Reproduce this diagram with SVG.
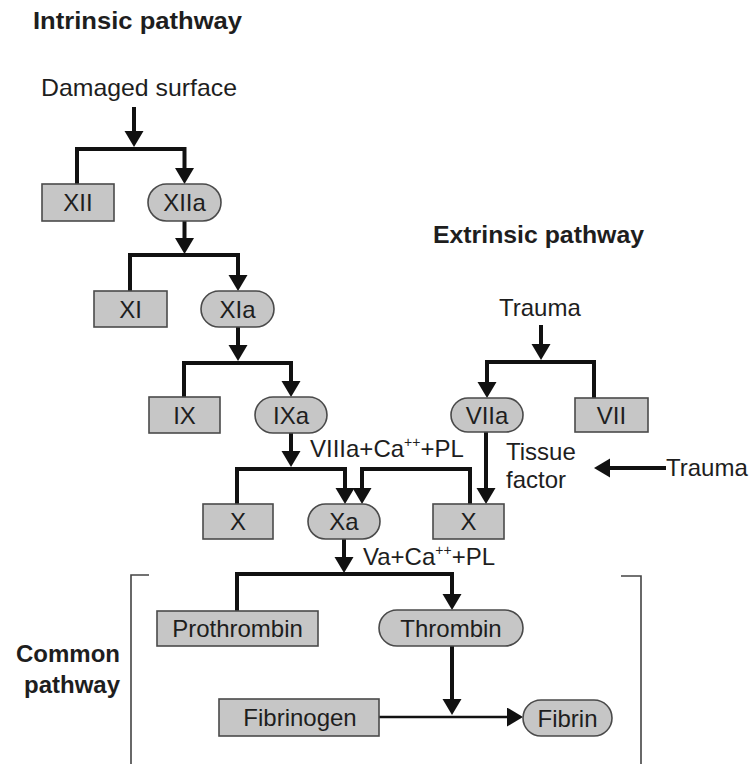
<svg xmlns="http://www.w3.org/2000/svg" width="752" height="764" viewBox="0 0 752 764">
<style>
text{font-family:"Liberation Sans",Arial,sans-serif;fill:#1e1e1e;font-size:24px}
.b{font-weight:bold}
.nt{text-anchor:middle}
.box{fill:#c6c6c6;stroke:#4a4a4a;stroke-width:1.6}
.c{fill:none;stroke:#111;stroke-width:4;stroke-linejoin:miter}
.thin{stroke-width:2.6}
.br{fill:none;stroke:#444;stroke-width:1.6}
.sup{font-size:14px}
</style>
<defs>
<marker id="ah" markerUnits="userSpaceOnUse" markerWidth="18" markerHeight="20" refX="8" refY="9.5" orient="auto" viewBox="0 0 18 20">
<path d="M0,0 L16,9.5 L0,19 z" fill="#111"/>
</marker>
</defs>
<rect width="752" height="764" fill="#fff"/>

<g id="titles">
<text class="b" x="33" y="29" textLength="209" lengthAdjust="spacingAndGlyphs">Intrinsic pathway</text>
<text class="b" x="433" y="243" textLength="211" lengthAdjust="spacingAndGlyphs">Extrinsic pathway</text>
<text class="b" x="120" y="662" text-anchor="end">Common</text>
<text class="b" x="120" y="693" text-anchor="end">pathway</text>
</g>

<g id="labels">
<text x="41" y="96" textLength="196" lengthAdjust="spacingAndGlyphs">Damaged surface</text>
<text x="499" y="316">Trauma</text>
<text x="666" y="476">Trauma</text>
<text x="506" y="460">Tissue</text>
<text x="506" y="488">factor</text>
<text x="310" y="457">VIIIa+Ca<tspan class="sup" dy="-10">++</tspan><tspan dy="10">+PL</tspan></text>
<text x="363" y="565">Va+Ca<tspan class="sup" dy="-10">++</tspan><tspan dy="10">+PL</tspan></text>
</g>

<g id="brackets">
<path class="br" d="M149,575 H131 V764"/>
<path class="br" d="M621,576 H641 V764"/>
</g>

<g id="connectors">
<path class="c" d="M134,107 V139" marker-end="url(#ah)"/>
<path class="c" d="M77,184 V149 H184.5 V176" marker-end="url(#ah)"/>
<path class="c" d="M184.5,221 V246" marker-end="url(#ah)"/>
<path class="c" d="M130,291 V255 H238 V283" marker-end="url(#ah)"/>
<path class="c" d="M238,327 V353" marker-end="url(#ah)"/>
<path class="c" d="M184,397 V363 H291 V389" marker-end="url(#ah)"/>
<path class="c" d="M291,433 V459" marker-end="url(#ah)"/>
<path class="c" d="M237,504 V469 H345 V496" marker-end="url(#ah)"/>
<path class="c" d="M470,504 V469 H362 V496" marker-end="url(#ah)"/>
<path class="c" d="M486,432 V496" marker-end="url(#ah)"/>
<path class="c" d="M541,325 V352" marker-end="url(#ah)"/>
<path class="c" d="M594,398 V362 H487 V390" marker-end="url(#ah)"/>
<path class="c" d="M666,468 H602" marker-end="url(#ah)"/>
<path class="c" d="M344,539 V565" marker-end="url(#ah)"/>
<path class="c" d="M237,611 V574 H452 V602" marker-end="url(#ah)"/>
<path class="c" d="M452,646 V707" marker-end="url(#ah)"/>
<path class="c thin" d="M379,717 H515" marker-end="url(#ah)"/>
</g>

<g id="n-XII"><rect class="box" x="42" y="184" width="72" height="37"/><text class="nt" x="78" y="211">XII</text></g>
<g id="n-XIIa"><rect class="box" x="148" y="184" width="73" height="37" rx="18.5"/><text class="nt" x="184.5" y="211">XIIa</text></g>
<g id="n-XI"><rect class="box" x="94" y="291" width="73" height="36"/><text class="nt" x="130.5" y="317.5">XI</text></g>
<g id="n-XIa"><rect class="box" x="201" y="291" width="73" height="36" rx="18"/><text class="nt" x="237.5" y="317.5">XIa</text></g>
<g id="n-IX"><rect class="box" x="149" y="397" width="71" height="36"/><text class="nt" x="184.5" y="423.5">IX</text></g>
<g id="n-IXa"><rect class="box" x="255" y="397" width="72" height="36" rx="18"/><text class="nt" x="291" y="423.5">IXa</text></g>
<g id="n-VIIa"><rect class="box" x="451" y="398" width="72" height="34" rx="17"/><text class="nt" x="487" y="423.5">VIIa</text></g>
<g id="n-VII"><rect class="box" x="575" y="398" width="73" height="34"/><text class="nt" x="611.5" y="423.5">VII</text></g>
<g id="n-X1"><rect class="box" x="203" y="504" width="70" height="35"/><text class="nt" x="238" y="530">X</text></g>
<g id="n-Xa"><rect class="box" x="308" y="504" width="72" height="35" rx="17.5"/><text class="nt" x="344" y="530">Xa</text></g>
<g id="n-X2"><rect class="box" x="433" y="504" width="71" height="35"/><text class="nt" x="468.5" y="530">X</text></g>
<g id="n-Prothrombin"><rect class="box" x="157" y="611" width="161" height="35"/><text class="nt" x="237.5" y="637">Prothrombin</text></g>
<g id="n-Thrombin"><rect class="box" x="379" y="610" width="144" height="36" rx="18"/><text class="nt" x="451" y="636.5">Thrombin</text></g>
<g id="n-Fibrinogen"><rect class="box" x="219" y="699" width="160" height="37"/><text class="nt" x="300" y="726">Fibrinogen</text></g>
<g id="n-Fibrin"><rect class="box" x="523" y="700" width="89" height="36" rx="18"/><text class="nt" x="567.5" y="726.5">Fibrin</text></g>
</svg>
